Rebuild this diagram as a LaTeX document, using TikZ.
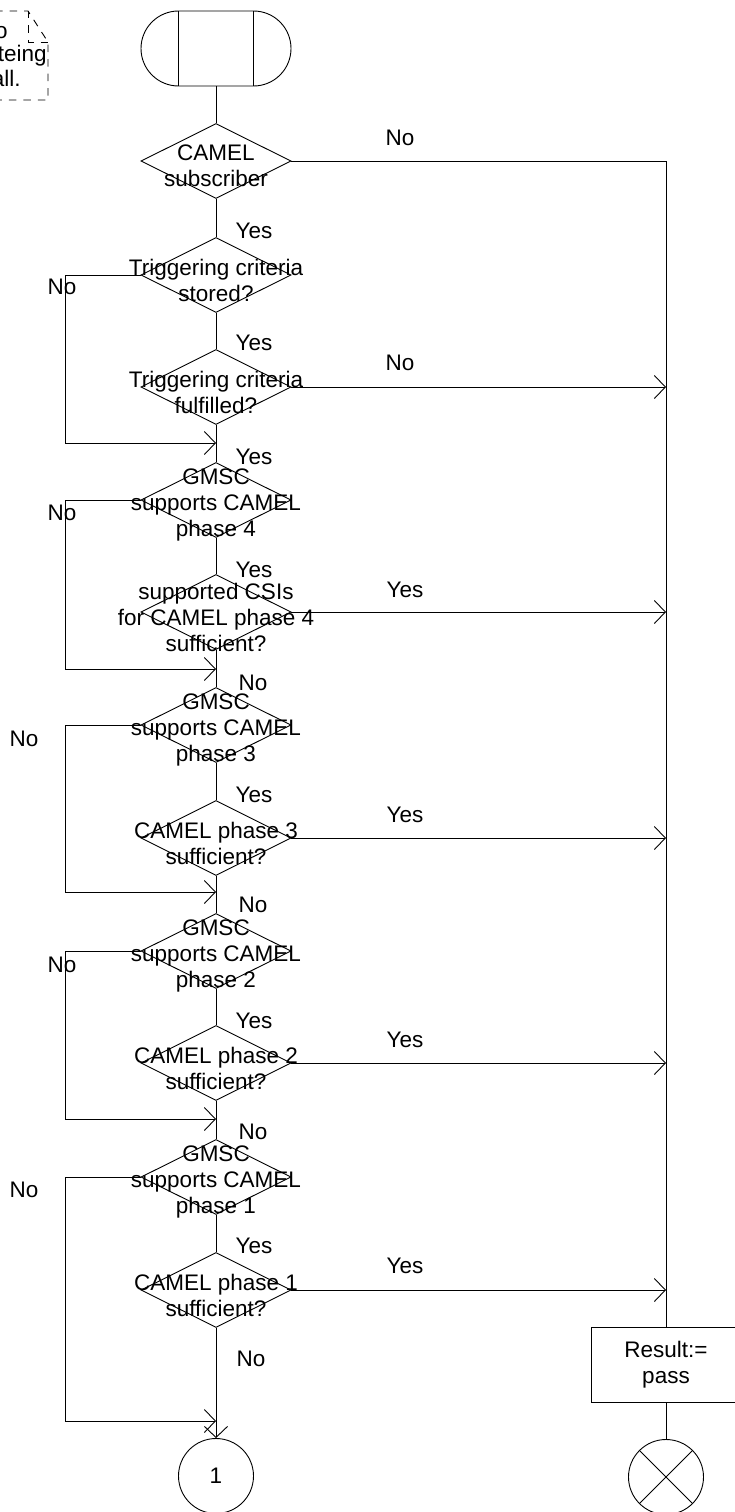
\documentclass[tikz,border=0pt]{standalone}
\usepackage{fontspec}
\setmainfont{Liberation Sans}
\usetikzlibrary{shapes.geometric,arrows.meta}
\begin{document}
\begin{tikzpicture}[x=1pt,y=-1pt,line width=0.9pt,
  every node/.style={font=\fontsize{22.5}{26}\selectfont,inner sep=0pt},
  dia/.style={draw,diamond,minimum width=150pt,minimum height=75pt},
  dtext/.style={align=center},
  box/.style={draw,minimum width=150pt,minimum height=75pt,align=center},
  conn/.style={draw,circle,minimum size=75pt},
  arr/.style={-{Straight Barb[length=11pt,width=23pt]}},
  notestyle/.style={dash pattern=on 7.5pt off 7pt}]
\useasboundingbox (0,0) rectangle (735,1512);

% comment symbol (cut at left edge)
\draw[notestyle] (-5,11) -- (28,11) -- (48,42) -- (48,100) -- (-5,100);
\draw[notestyle] (28,11) -- (28,42) -- (48,42);
\node[anchor=east] (n1) at (8,33) {o};
\node[anchor=east] (n2) at (47,56) {teing};
\node[anchor=east] (n3) at (21,78) {all.};

% start symbol
\node[draw,rounded corners=37.5pt,minimum width=150pt,minimum height=75pt] (start) at (216,48.5) {};
\draw (178.5,11) -- (178.5,86);
\draw (253.5,11) -- (253.5,86);

% decisions
\node[dia] (d1) at (216,161) {};
\node[dtext] (t1) at (216,166) {CAMEL\\subscriber};
\node[dia] (d2) at (216,275) {};
\node[dtext] (t2) at (216,280) {Triggering criteria\\stored?};
\node[dia] (d3) at (216,387) {};
\node[dtext] (t3) at (216,392) {Triggering criteria\\fulfilled?};
\node[dia] (d4) at (216,500) {};
\node[dtext] (t4) at (216,505) {GMSC\\supports CAMEL\\phase 4};
\node[dia] (d5) at (216,612) {};
\node[dtext] (t5) at (216,617) {supported CSIs\\for CAMEL phase 4\\sufficient?};
\node[dia] (d6) at (216,725) {};
\node[dtext] (t6) at (216,730) {GMSC\\supports CAMEL\\phase 3};
\node[dia] (d7) at (216,838) {};
\node[dtext] (t7) at (216,843) {CAMEL phase 3\\sufficient?};
\node[dia] (d8) at (216,951) {};
\node[dtext] (t8) at (216,956) {GMSC\\supports CAMEL\\phase 2};
\node[dia] (d9) at (216,1063) {};
\node[dtext] (t9) at (216,1068) {CAMEL phase 2\\sufficient?};
\node[dia] (d10) at (216,1177) {};
\node[dtext] (t10) at (216,1182) {GMSC\\supports CAMEL\\phase 1};
\node[dia] (d11) at (216,1290) {};
\node[dtext] (t11) at (216,1295) {CAMEL phase 1\\sufficient?};

% connectors / terminals
\node[conn] (c1) at (216,1476) {1};
\node[box] (res) at (666,1364.5) {Result:=\\pass};
\node[conn] (stop) at (666,1477) {};
\draw (stop.45) -- (stop.225);
\draw (stop.135) -- (stop.315);

% join points
\coordinate (j1) at (216,443);
\coordinate (j2) at (216,669);
\coordinate (j3) at (216,892);
\coordinate (j4) at (216,1119);
\coordinate (j5) at (216,1421);
\coordinate (r3) at (666,387);
\coordinate (r5) at (666,612);
\coordinate (r7) at (666,838);
\coordinate (r9) at (666,1063);
\coordinate (r11) at (666,1290);

% main column
\draw (start.south) -- (d1.north);
\draw (d1.south) -- (d2.north);
\draw (d2.south) -- (d3.north);
\draw (d3.south) -- (d4.north);
\draw (d4.south) -- (d5.north);
\draw (d5.south) -- (d6.north);
\draw (d6.south) -- (d7.north);
\draw (d7.south) -- (d8.north);
\draw (d8.south) -- (d9.north);
\draw (d9.south) -- (d10.north);
\draw (d10.south) -- (d11.north);
\draw[arr] (d11.south) -- (c1.north);

% left loops
\draw[arr] (d2.west) -- (65,275) |- (j1);
\draw[arr] (d4.west) -- (65,500) |- (j2);
\draw[arr] (d6.west) -- (65,725) |- (j3);
\draw[arr] (d8.west) -- (65,951) |- (j4);
\draw[arr] (d10.west) -- (65,1177) |- (j5);

% right column
\draw (d1.east) -| (res.north);
\draw[arr] (d3.east) -- (r3);
\draw[arr] (d5.east) -- (r5);
\draw[arr] (d7.east) -- (r7);
\draw[arr] (d9.east) -- (r9);
\draw[arr] (d11.east) -- (r11);
\draw (res.south) -- (stop.north);

% labels
\node (l1) at (400,138) {No};
\node (l2) at (400,363) {No};
\node (l3) at (405,590) {Yes};
\node (l4) at (405,815) {Yes};
\node (l5) at (405,1040) {Yes};
\node (l6) at (405,1266) {Yes};
\node (y1) at (254,231) {Yes};
\node (y2) at (254,343) {Yes};
\node (y3) at (254,457) {Yes};
\node (y4) at (254,570) {Yes};
\node (y5) at (254,795) {Yes};
\node (y6) at (254,1021) {Yes};
\node (y7) at (254,1246) {Yes};
\node (m1) at (253,683) {No};
\node (m2) at (253,905) {No};
\node (m3) at (253,1132) {No};
\node (m4) at (251,1359) {No};
\node (ln1) at (62,287) {No};
\node (ln2) at (62,513) {No};
\node (ln3) at (24,739) {No};
\node (ln4) at (62,965) {No};
\node (ln5) at (24,1190) {No};
\end{tikzpicture}
\end{document}
